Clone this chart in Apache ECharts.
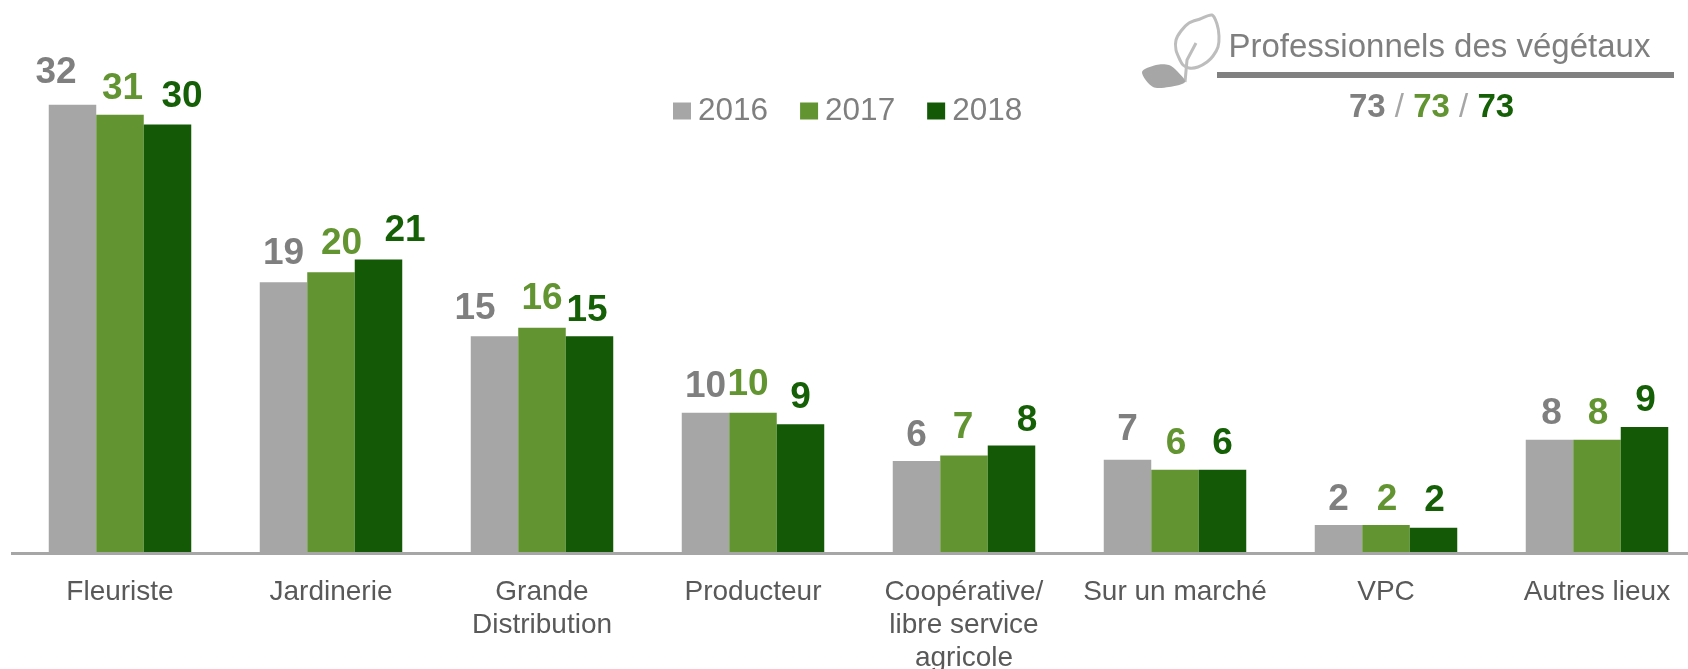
<!DOCTYPE html>
<html>
<head>
<meta charset="utf-8">
<style>
  html, body { margin: 0; padding: 0; background: #fff; }
  #chart { width: 1688px; height: 669px; }
</style>
<script src="https://cdn.jsdelivr.net/npm/echarts@6/dist/echarts.min.js"></script>
</head>
<body>
<div id="chart"></div>
<script>
var categories = ['Fleuriste', 'Jardinerie', 'Grande\nDistribution', 'Producteur', 'Coopérative/\nlibre service\nagricole', 'Sur un marché', 'VPC', 'Autres lieux'];
var years = ['2016', '2017', '2018'];

// bars carry more precision than the rounded labels above them
var values2016 = [31.5, 19.0, 15.2, 9.8, 6.4, 6.5, 1.9, 7.9];
var values2017 = [30.8, 19.7, 15.8, 9.8, 6.8, 5.8, 1.9, 7.9];
var values2018 = [30.1, 20.6, 15.2, 9.0, 7.5, 5.8, 1.7, 8.8];

var barColors = ['#a6a6a6', '#629431', '#145a06'];
var labelColors = ['#7f7f7f', '#629431', '#156006'];

// the labels were moved by hand in the original, so each has its own shift
var offsets2016 = [[-16.5, -16], [0, -13], [-19.5, -12], [0, -11], [0, -10], [0, -14], [0, -10], [2, -11]];
var offsets2017 = [[2.5, -10], [10.5, -13], [0, -13], [-5, -13], [-1, -12], [1, -10], [1, -10], [1, -11]];
var offsets2018 = [[14.5, -12], [26.5, -13], [-2.5, -10], [0, -11], [15.5, -9], [0, -10], [1, -12], [1, -11]];

function makeSeries(name, values, offsets, i) {
  return {
    name: name,
    type: 'bar',
    barWidth: 47.5,
    barGap: 0,
    itemStyle: { color: barColors[i] },
    label: {
      show: true,
      position: 'top',
      distance: -3,
      fontFamily: 'Liberation Sans',
      fontSize: 37,
      fontWeight: 'bold',
      color: labelColors[i],
      formatter: function (p) { return Math.round(p.value); }
    },
    data: values.map(function (v, k) {
      return { value: v, label: { offset: offsets[k] } };
    })
  };
}

var chart = echarts.init(document.getElementById('chart'), null, { renderer: 'canvas' });

var option = {
  backgroundColor: '#ffffff',
  animation: false,
  textStyle: { fontFamily: 'Liberation Sans' },
  title: [
    {
      text: 'Professionnels des végétaux',
      left: 1223.5,
      top: 26,
      textStyle: { fontFamily: 'Liberation Sans', fontSize: 33, fontWeight: 'normal', color: '#7f7f7f' }
    },
    {
      text: '{a|73}{s| / }{b|73}{s| / }{c|73}',
      left: 1344,
      top: 86,
      textStyle: {
        fontFamily: 'Liberation Sans',
        rich: {
          a: { fontFamily: 'Liberation Sans', fontSize: 33, fontWeight: 'bold', color: labelColors[0] },
          b: { fontFamily: 'Liberation Sans', fontSize: 33, fontWeight: 'bold', color: labelColors[1] },
          c: { fontFamily: 'Liberation Sans', fontSize: 33, fontWeight: 'bold', color: labelColors[2] },
          s: { fontFamily: 'Liberation Sans', fontSize: 33, fontWeight: 'normal', color: '#a6a6a6' }
        }
      }
    }
  ],
  legend: {
    left: 668,
    top: 90,
    icon: 'rect',
    itemWidth: 18,
    itemHeight: 17,
    itemGap: 32,
    textStyle: { fontFamily: 'Liberation Sans', fontSize: 31.5, color: '#7f7f7f', padding: [0, 0, 0, 2] },
    data: years
  },
  grid: { left: 14.5, top: 12.4, width: 1688, height: 539.6, outerBoundsMode: 'none' },
  xAxis: {
    type: 'category',
    data: categories,
    offset: 1.5,
    z: 5,
    axisLine: { onZero: false, lineStyle: { color: '#a6a6a6', width: 3 } },
    axisTick: { show: false },
    axisLabel: {
      interval: 0,
      margin: 22,
      fontFamily: 'Liberation Sans',
      fontSize: 28,
      lineHeight: 33,
      color: '#595959'
    }
  },
  yAxis: { type: 'value', min: 0, max: 38, show: false, splitLine: { show: false } },
  series: [
    makeSeries(years[0], values2016, offsets2016, 0),
    makeSeries(years[1], values2017, offsets2017, 1),
    makeSeries(years[2], values2018, offsets2018, 2)
  ],
  graphic: [
    // axis line runs a little past the first band, rule under the header, leaf icon
    { type: 'rect', shape: { x: 11, y: 552, width: 5, height: 3 }, style: { fill: '#a6a6a6' } },
    { type: 'rect', shape: { x: 1217, y: 72, width: 457, height: 6 }, style: { fill: '#808080' } },
    {
      type: 'polygon',
      shape: { smooth: 0.3, points: [[1212, 15], [1217, 24], [1219, 36], [1218, 47], [1213, 56], [1207, 62], [1198, 67], [1189, 68], [1183, 65], [1180, 60], [1176, 50], [1176, 40], [1181, 31], [1189, 23], [1200, 19]] },
      style: { fill: 'none', stroke: '#bdbdbd', lineWidth: 3 }
    },
    {
      type: 'polyline',
      shape: { points: [[1196, 43], [1187, 60], [1185, 82]] },
      style: { fill: 'none', stroke: '#bdbdbd', lineWidth: 3 }
    },
    {
      type: 'polygon',
      shape: { smooth: 0.3, points: [[1142, 72], [1156, 65], [1169, 65], [1177, 71], [1185, 82], [1169, 87], [1153, 87]] },
      style: { fill: '#a6a6a6' }
    }
  ]
};

chart.setOption(option);
</script>
</body>
</html>
